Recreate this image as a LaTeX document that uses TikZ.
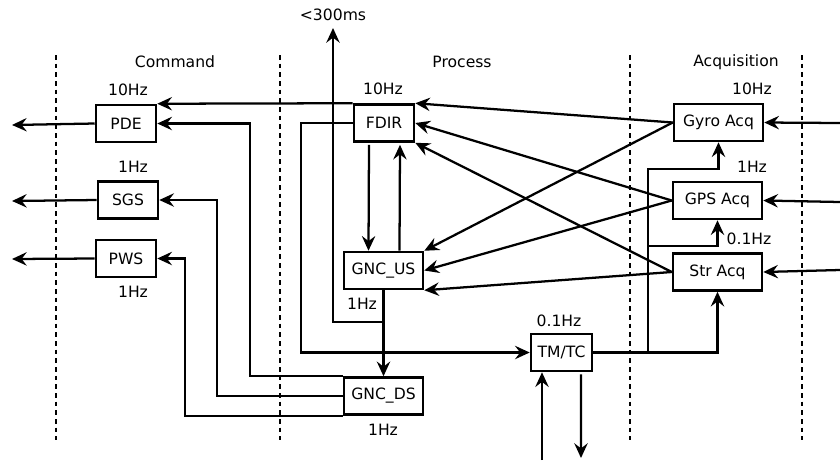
\documentclass[tikz,border=0pt]{standalone}
\usepackage{fontspec}
\setmainfont{DejaVu Sans}
\usetikzlibrary{arrows.meta}
\tikzset{
  box/.style={draw, line width=1.9pt, minimum height=27.75pt, inner sep=0pt, font=\fontsize{11.7}{13}\selectfont},
  lbl/.style={inner sep=0pt, font=\fontsize{11.7}{13}\selectfont},
  arr/.style={line width=1.7pt, -{Stealth[length=11pt, width=10pt, inset=3.8pt]}},
  sep/.style={line width=1.6pt, dash pattern=on 3.5pt off 3pt},
}
\begin{document}
\begin{tikzpicture}[x=0.75pt,y=-0.75pt]
\useasboundingbox (0,0) rectangle (840,462);
% separators
\foreach \x in {56,280,630,802} \draw[sep] (\x,55) -- (\x,440);
% section titles
\node[lbl] (tcmd) at (175,62) {Command};
\node[lbl] (tproc) at (462,62) {Process};
\node[lbl] (tacq) at (736,62) {Acquisition};
% boxes
\node[box, minimum width=45pt] (PDE) at (126,123.5) {PDE};
\node[box, minimum width=45pt] (SGS) at (128,200) {SGS};
\node[box, minimum width=45pt] (PWS) at (126,258.5) {PWS};
\node[box, minimum width=45pt] (FDIR) at (384,123) {FDIR};
\node[box, minimum width=59.25pt] (GNCUS) at (383.5,270.5) {GNC\_US};
\node[box, minimum width=59.25pt] (GNCDS) at (383.5,396) {GNC\_DS};
\node[box, minimum width=45.75pt] (TMTC) at (561.5,352.5) {TM/TC};
\node[box, minimum width=66.75pt] (Gyro) at (718.5,122.5) {Gyro Acq};
\node[box, minimum width=66.75pt] (GPS) at (717.5,200.5) {GPS Acq};
\node[box, minimum width=66.75pt] (Str) at (717.5,272) {Str Acq};
% rate labels
\node[lbl] (fPDE) at (128,90) {10Hz};
\node[lbl] (fFDIR) at (383,89) {10Hz};
\node[lbl] (fGyro) at (752,89) {10Hz};
\node[lbl] (fSGS) at (133,167) {1Hz};
\node[lbl] (fPWS) at (133,292) {1Hz};
\node[lbl] (fGNCUS) at (362,304) {1Hz};
\node[lbl] (fGNCDS) at (383,430) {1Hz};
\node[lbl] (fTMTC) at (559,321) {0.1Hz};
\node[lbl] (fGPS) at (752,167) {1Hz};
\node[lbl] (fStr) at (749,239) {0.1Hz};
\node[lbl] (lat) at (333,15) {<300ms};
% free ends
\coordinate (oPDE) at (12,125);
\coordinate (oSGS) at (12,201);
\coordinate (oPWS) at (12,259);
\coordinate (iGyro) at (840,123);
\coordinate (iGPS) at (840,202);
\coordinate (iStr) at (840,270);
\coordinate (latTip) at (333,28);
\coordinate (tcIn) at (542,460);
\coordinate (tcOut) at (581,458);
% outputs / inputs
\draw[arr] (PDE.west) -- (oPDE);
\draw[arr] (SGS.west) -- (oSGS);
\draw[arr] (PWS.west) -- (oPWS);
\draw[arr] (iGyro) -- (Gyro.east);
\draw[arr] (iGPS) -- (GPS.east);
\draw[arr] (iStr) -- (Str.east);
% FDIR to PDE
\draw[arr] (FDIR.north west) -- (PDE.north east);
% GNC_DS to commands
\draw[arr] (GNCDS.north west) -| (250,300) |- (PDE.east);
\draw[arr] (GNCDS.west) -| (217,300) |- (SGS.east);
\draw[arr] (GNCDS.south west) -| (185,300) |- (PWS.east);
% FDIR to TM/TC
\draw[arr] (FDIR.west) -| (301,200) |- (TMTC.west);
% GNC_US down
\draw[arr] (GNCUS.south) -- (GNCDS.north);
\draw[arr] (GNCUS.south) |- (333,322) -- (latTip);
% FDIR <-> GNC_US
\draw[arr] ([xshift=-11.25pt,yshift=-1.5pt]FDIR.south) -- ([xshift=-11.25pt]GNCUS.north);
\draw[arr] ([xshift=12pt]GNCUS.north) -- ([xshift=12pt,yshift=-1.5pt]FDIR.south);
% acquisition to FDIR / GNC_US
\draw[arr] (Gyro.west) -- (FDIR.north east);
\draw[arr] (GPS.west) -- (FDIR.east);
\draw[arr] (Str.west) -- (FDIR.south east);
\draw[arr] (Gyro.west) -- (GNCUS.north east);
\draw[arr] (GPS.west) -- (GNCUS.east);
\draw[arr] (Str.west) -- (GNCUS.south east);
% TM/TC to acquisition
\draw[arr] (TMTC.east) -| (Str.south);
\draw[arr] (TMTC.east) -| (648,246) -| (GPS.south);
\draw[arr] (TMTC.east) -| (648,169) -| (Gyro.south);
% TM/TC external
\draw[arr] (tcIn) -- (tcIn |- TMTC.south);
\draw[arr] ([xshift=14.6pt,yshift=-1.5pt]TMTC.south) -- (tcOut);
\end{tikzpicture}
\end{document}
